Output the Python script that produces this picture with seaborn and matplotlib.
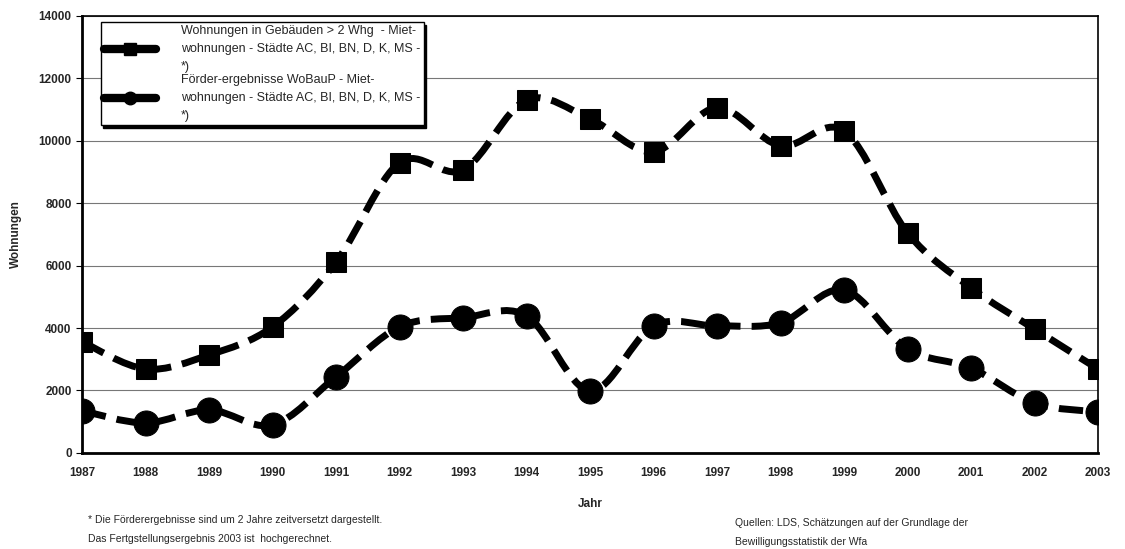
import matplotlib
matplotlib.use("Agg")
import matplotlib.pyplot as plt
from matplotlib.path import Path
from matplotlib.patches import PathPatch
from matplotlib.lines import Line2D
import seaborn as sns
import pandas as pd

# Daten
jahre = list(range(1987, 2004))
wohnungen_miet = [3560, 2690, 3140, 4040, 6120, 9300, 9070, 11310, 10700,
                  9650, 11060, 9840, 10320, 7050, 5290, 3970, 2690]
foerder_ergebnisse = [1350, 960, 1380, 900, 2440, 4040, 4330, 4390, 1990,
                      4070, 4070, 4170, 5220, 3330, 2720, 1600, 1310]
label_miet = "Wohnungen in Gebäuden > 2 Whg  - Miet-\nwohnungen - Städte AC, BI, BN, D, K, MS -\n*)"
label_foerder = "Förder-ergebnisse WoBauP - Miet-\nwohnungen - Städte AC, BI, BN, D, K, MS -\n*)"

df = pd.DataFrame({"Jahr": jahre, "miet": wohnungen_miet, "foerder": foerder_ergebnisse})

sns.set_style("white")
plt.rcParams['font.family'] = ['Liberation Sans', 'DejaVu Sans']

DASH = (0, (3.5, 1.6))


def glatte_linie(ax, xs, ys):
    # geglaettete Linie wie in Excel (Catmull-Rom als Bezier)
    pts = list(zip(xs, ys))
    n = len(pts)
    verts = [pts[0]]
    codes = [Path.MOVETO]
    for i in range(n - 1):
        p0 = pts[max(i - 1, 0)]
        p1 = pts[i]
        p2 = pts[i + 1]
        p3 = pts[min(i + 2, n - 1)]
        c1 = (p1[0] + (p2[0] - p0[0]) / 6, p1[1] + (p2[1] - p0[1]) / 6)
        c2 = (p2[0] - (p3[0] - p1[0]) / 6, p2[1] - (p3[1] - p1[1]) / 6)
        verts += [c1, c2, p2]
        codes += [Path.CURVE4] * 3
    ax.add_patch(PathPatch(Path(verts, codes), fill=False, edgecolor="black",
                           lw=5, linestyle=DASH, capstyle="butt", zorder=2))


fig = plt.figure(figsize=(11.25, 5.49), dpi=100)
ax = fig.add_axes([0.073, 0.175, 0.903, 0.796])

glatte_linie(ax, jahre, wohnungen_miet)
glatte_linie(ax, jahre, foerder_ergebnisse)

sns.lineplot(data=df, x="Jahr", y="miet", ax=ax, color="black", lw=0,
             marker="s", markersize=15, legend=False, zorder=3)
sns.lineplot(data=df, x="Jahr", y="foerder", ax=ax, color="black", lw=0,
             marker="o", markersize=18, legend=False, zorder=3)
for ln in ax.lines:
    ln.set_markeredgecolor("black")
    ln.set_markerfacecolor("black")

ax.set_xlim(1987, 2003)
ax.set_ylim(0, 14000)
ax.set_xticks(jahre)
ax.set_xticklabels([str(j) for j in jahre], fontsize=8.5, fontweight="bold")
ax.set_yticks(range(0, 14001, 2000))
ax.set_yticklabels([str(v) for v in range(0, 14001, 2000)], fontsize=8.5, fontweight="bold")
ax.tick_params(axis="x", pad=10, length=0)
ax.tick_params(axis="y", length=4, left=True, color="black")
ax.yaxis.grid(True, color="#777777", lw=0.8)
ax.set_axisbelow(True)
for s in ax.spines.values():
    s.set_color("black")
    s.set_linewidth(1.2)
ax.spines["left"].set_linewidth(2)
ax.spines["bottom"].set_linewidth(2)

ax.set_xlabel("Jahr", fontsize=8.5, fontweight="bold", labelpad=14)
ax.set_ylabel("Wohnungen", fontsize=8.5, fontweight="bold", labelpad=12)

# Legende
handles = [Line2D([], [], color="black", lw=6, marker="s", markersize=9),
           Line2D([], [], color="black", lw=6, marker="o", markersize=9)]
leg = ax.legend(handles, [label_miet, label_foerder], loc="upper left",
                bbox_to_anchor=(0.012, 1.0), fontsize=9,
                frameon=True, fancybox=False, shadow={"color": "black", "alpha": 1},
                edgecolor="black", handlelength=4.2, handletextpad=2,
                labelspacing=0.1, borderpad=0.25)
for t in leg.get_texts():
    t.set_linespacing(1.65)
leg.get_frame().set_linewidth(1)
leg.get_frame().set_alpha(1)

fig.text(0.078, 0.048, "* Die Förderergebnisse sind um 2 Jahre zeitversetzt dargestellt.",
         fontsize=7.5)
fig.text(0.078, 0.012, "Das Fertgstellungsergebnis 2003 ist  hochgerechnet.", fontsize=7.5)
fig.text(0.653, 0.042, "Quellen: LDS, Schätzungen auf der Grundlage der", fontsize=7.5)
fig.text(0.653, 0.008, "Bewilligungsstatistik der Wfa", fontsize=7.5)

fig.savefig("out.png", dpi=100)
